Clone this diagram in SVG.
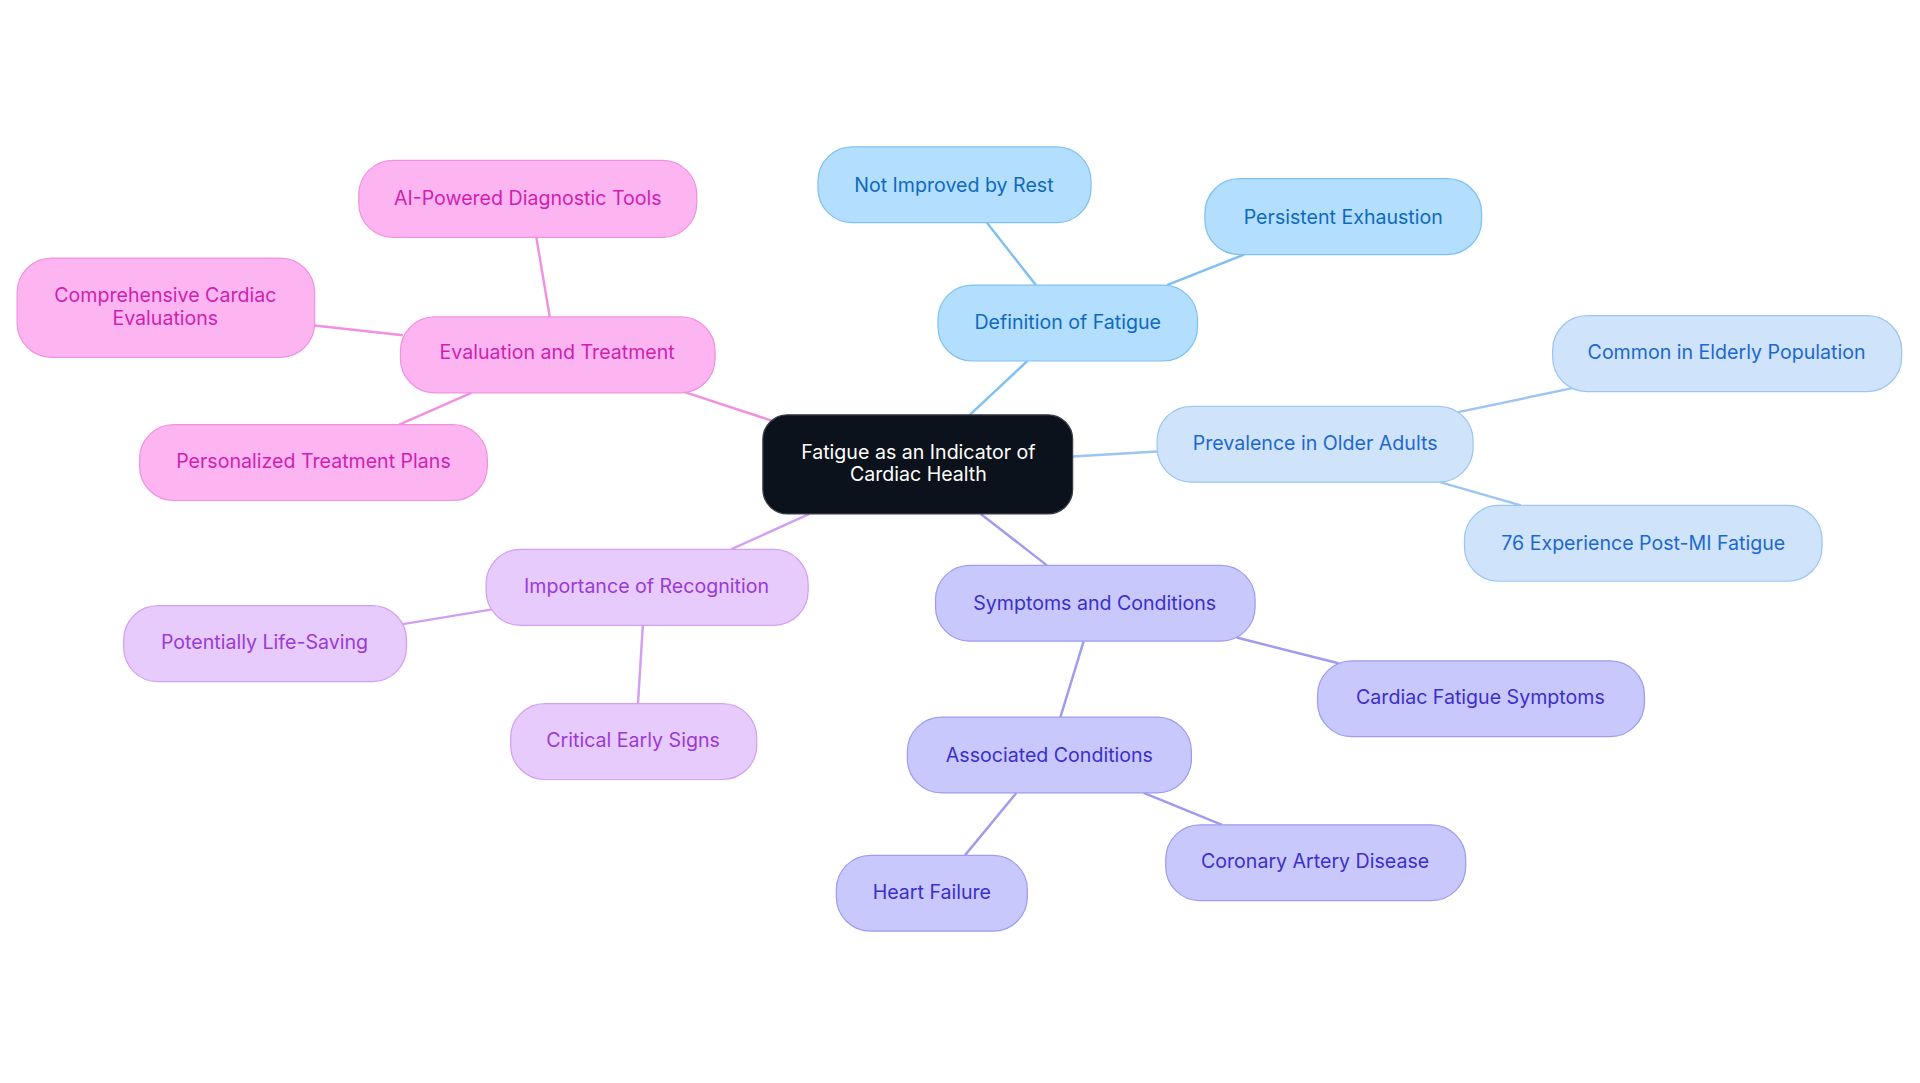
<svg xmlns="http://www.w3.org/2000/svg" width="1920" height="1083" viewBox="0 0 1920 1083">
<style>
text{font-family:Inter,"Noto Sans","Liberation Sans",sans-serif;font-size:16px;text-anchor:middle;dominant-baseline:central}
.e{fill:none;stroke-width:2}
.b1 rect{fill:#b3defd;stroke:#7fc1f2;stroke-width:1}
.b1 text{fill:#0e6ac0}
.b2 rect{fill:#cfe3fb;stroke:#9cc5f3;stroke-width:1}
.b2 text{fill:#1d68cf}
.b3 rect{fill:#c9c8fc;stroke:#9e9bf0;stroke-width:1}
.b3 text{fill:#3b2fcc}
.b4 rect{fill:#e7cbfc;stroke:#d39ff2;stroke-width:1}
.b4 text{fill:#9a3ad6}
.b5 rect{fill:#fdb5f2;stroke:#f190e0;stroke-width:1}
.b5 text{fill:#d01fae}
</style>
<rect width="1920" height="1083" fill="#ffffff"/>
<g transform="scale(1.22449,1.2237)">
<g id="connectors">
<line class="e" stroke="#7fc1f2" x1="792" y1="339" x2="839" y2="295"/>
<line class="e" stroke="#7fc1f2" x1="846" y1="233" x2="806" y2="182"/>
<line class="e" stroke="#7fc1f2" x1="953" y1="233" x2="1016" y2="208"/>
<line class="e" stroke="#9cc5f3" x1="876" y1="373" x2="945" y2="369"/>
<line class="e" stroke="#9cc5f3" x1="1190" y1="337" x2="1285" y2="317"/>
<line class="e" stroke="#9cc5f3" x1="1176" y1="394" x2="1242" y2="413"/>
<line class="e" stroke="#9e9bf0" x1="801" y1="420" x2="855" y2="462"/>
<line class="e" stroke="#9e9bf0" x1="1010" y1="521" x2="1093" y2="542"/>
<line class="e" stroke="#9e9bf0" x1="885" y1="524" x2="866" y2="586"/>
<line class="e" stroke="#9e9bf0" x1="830" y1="648" x2="788" y2="699"/>
<line class="e" stroke="#9e9bf0" x1="934" y1="648" x2="998" y2="674"/>
<line class="e" stroke="#d39ff2" x1="661" y1="420" x2="597" y2="449"/>
<line class="e" stroke="#d39ff2" x1="402" y1="498" x2="329" y2="510"/>
<line class="e" stroke="#d39ff2" x1="525" y1="511" x2="521" y2="575"/>
<line class="e" stroke="#f190e0" x1="634" y1="345" x2="558" y2="320"/>
<line class="e" stroke="#f190e0" x1="449" y1="259" x2="438" y2="194"/>
<line class="e" stroke="#f190e0" x1="329" y1="274" x2="257" y2="266"/>
<line class="e" stroke="#f190e0" x1="385" y1="321" x2="326" y2="347"/>
</g>
<g id="root">
<rect x="623" y="339" width="253" height="81" rx="20" fill="#0c121b" stroke="#3a3f47" stroke-width="1"/>
<text x="750" y="369" fill="#ffffff">Fatigue as an Indicator of</text>
<text x="750" y="387" fill="#ffffff">Cardiac Health</text>
</g>
<g id="n-definition" class="b1"><rect x="766" y="233" width="212" height="62" rx="28"/><text x="872" y="263">Definition of Fatigue</text></g>
<g id="n-notimproved" class="b1"><rect x="668" y="120" width="223" height="62" rx="28"/><text x="779" y="151">Not Improved by Rest</text></g>
<g id="n-persistent" class="b1"><rect x="984" y="146" width="226" height="62" rx="28"/><text x="1097" y="177">Persistent Exhaustion</text></g>
<g id="n-prevalence" class="b2"><rect x="945" y="332" width="258" height="62" rx="28"/><text x="1074" y="362">Prevalence in Older Adults</text></g>
<g id="n-common" class="b2"><rect x="1268" y="258" width="285" height="62" rx="28"/><text x="1410" y="288">Common in Elderly Population</text></g>
<g id="n-76" class="b2"><rect x="1196" y="413" width="292" height="62" rx="28"/><text x="1342" y="444">76 Experience Post-MI Fatigue</text></g>
<g id="n-symptoms" class="b3"><rect x="764" y="462" width="261" height="62" rx="28"/><text x="894" y="493">Symptoms and Conditions</text></g>
<g id="n-cardiacfatigue" class="b3"><rect x="1076" y="540" width="267" height="62" rx="28"/><text x="1209" y="570">Cardiac Fatigue Symptoms</text></g>
<g id="n-associated" class="b3"><rect x="741" y="586" width="232" height="62" rx="28"/><text x="857" y="617">Associated Conditions</text></g>
<g id="n-heartfailure" class="b3"><rect x="683" y="699" width="156" height="62" rx="28"/><text x="761" y="729">Heart Failure</text></g>
<g id="n-coronary" class="b3"><rect x="952" y="674" width="245" height="62" rx="28"/><text x="1074" y="704">Coronary Artery Disease</text></g>
<g id="n-importance" class="b4"><rect x="397" y="449" width="263" height="62" rx="28"/><text x="528" y="479">Importance of Recognition</text></g>
<g id="n-lifesaving" class="b4"><rect x="101" y="495" width="231" height="62" rx="28"/><text x="216" y="525">Potentially Life-Saving</text></g>
<g id="n-critical" class="b4"><rect x="417" y="575" width="201" height="62" rx="28"/><text x="517" y="605">Critical Early Signs</text></g>
<g id="n-evaluation" class="b5"><rect x="327" y="259" width="257" height="62" rx="28"/><text x="455" y="288">Evaluation and Treatment</text></g>
<g id="n-ai" class="b5"><rect x="293" y="131" width="276" height="63" rx="28"/><text x="431" y="162">AI-Powered Diagnostic Tools</text></g>
<g id="n-comprehensive" class="b5"><rect x="14" y="211" width="243" height="81" rx="28"/><text x="135" y="241">Comprehensive Cardiac</text><text x="135" y="260">Evaluations</text></g>
<g id="n-personalized" class="b5"><rect x="114" y="347" width="284" height="62" rx="28"/><text x="256" y="377">Personalized Treatment Plans</text></g>
</g>
</svg>
